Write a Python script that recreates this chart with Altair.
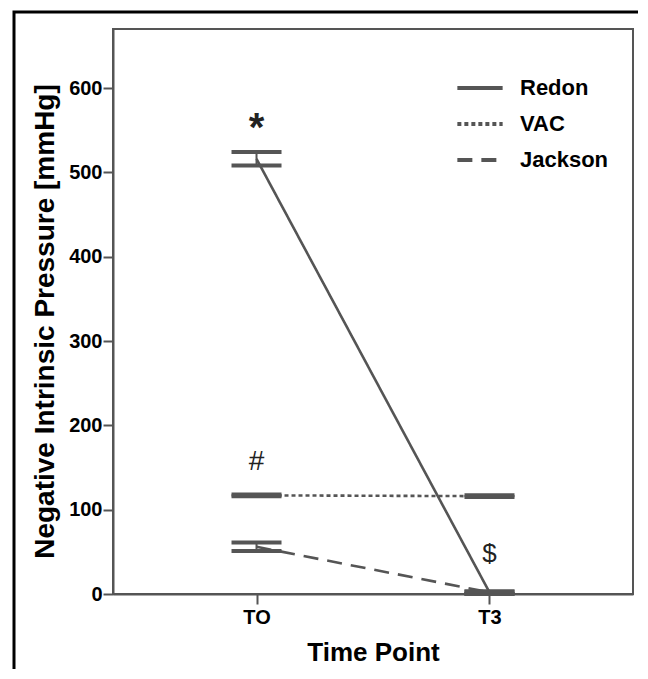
import altair as alt
import pandas as pd

groups = ["Redon", "VAC", "Jackson"]
times = ["TO", "T3"]
redon_mean = [516, 2]
redon_lo = [508, 0]
redon_hi = [524, 3]
vac_mean = [117, 116]
vac_lo = [116, 115]
vac_hi = [118, 117]
jackson_mean = [56, 2]
jackson_lo = [51, 0]
jackson_hi = [61, 3]

ann_labels = ["*", "#", "$"]
ann_time = ["TO", "TO", "T3"]
ann_value = [556, 157, 48]

rows = []
for g, m, lo, hi in [("Redon", redon_mean, redon_lo, redon_hi),
                     ("VAC", vac_mean, vac_lo, vac_hi),
                     ("Jackson", jackson_mean, jackson_lo, jackson_hi)]:
    for i, t in enumerate(times):
        rows.append({"group": g, "time": t, "mean": m[i], "lo": lo[i], "hi": hi[i]})
df = pd.DataFrame(rows)
ann = pd.DataFrame({"label": ann_labels, "time": ann_time, "value": ann_value})

GRAY = "#555555"
FONT = "Liberation Sans"

xenc = alt.X("time:N", sort=times,
             scale=alt.Scale(type="point", padding=0.616),
             axis=alt.Axis(title="Time Point", labelAngle=0))
yscale = alt.Scale(domain=[0, 670], nice=False)

lines = alt.Chart(df).mark_line(color=GRAY, strokeWidth=2.6).encode(
    x=xenc,
    y=alt.Y("mean:Q", scale=yscale,
            axis=alt.Axis(title="Negative Intrinsic Pressure [mmHg]", titleY=292,
                          values=[0, 100, 200, 300, 400, 500, 600], grid=False)),
    strokeDash=alt.StrokeDash("group:N", sort=groups,
                              scale=alt.Scale(domain=groups, range=[[1, 0], [4, 3], [15, 9]]),
                              legend=alt.Legend(title=None, orient="none", legendX=342, legendY=34,
                                                symbolType="stroke", symbolSize=2050,
                                                symbolStrokeWidth=4, symbolStrokeColor=GRAY,
                                                labelFont=FONT, labelFontSize=22,
                                                labelFontWeight="bold", labelColor="black",
                                                labelOffset=15, rowPadding=-21)),
    detail="group:N",
)

tick_props = dict(color=GRAY, thickness=4, size=50, orient="horizontal", opacity=1)
caps_lo = alt.Chart(df).mark_tick(**tick_props).encode(
    x=alt.X("time:N", sort=times), y=alt.Y("lo:Q", scale=yscale))
caps_hi = alt.Chart(df).mark_tick(**tick_props).encode(
    x=alt.X("time:N", sort=times), y=alt.Y("hi:Q", scale=yscale))
stems = alt.Chart(df).mark_rule(color=GRAY, strokeWidth=2).encode(
    x=alt.X("time:N", sort=times), y=alt.Y("lo:Q", scale=yscale), y2="hi:Q")

base_t = alt.Chart(ann).encode(
    x=alt.X("time:N", sort=times), y=alt.Y("value:Q", scale=yscale), text="label:N")
star = base_t.mark_text(font=FONT, fontSize=40, fontWeight="bold", color="#222222", dy=4).transform_filter(
    alt.datum.label == "*")
hash_t = base_t.mark_text(font=FONT, fontSize=28, color="#222222").transform_filter(
    alt.datum.label == "#")
dollar = base_t.mark_text(font=FONT, fontSize=26, color="#222222").transform_filter(
    alt.datum.label == "$")

frame = alt.Chart(pd.DataFrame({"a": [0]})).mark_rect(
    fill=None, stroke="black", strokeWidth=3, clip=False).encode(
    x=alt.value(-99), x2=alt.value(560), y=alt.value(-17), y2=alt.value(700))

chart = alt.layer(frame, lines, stems, caps_lo, caps_hi, star, hash_t, dollar).properties(
    width=520, height=565,
    autosize=alt.AutoSizeParams(type="none"),
    padding={"left": 105, "top": 21, "right": 5, "bottom": 75},
).configure_view(stroke=GRAY, strokeWidth=2).configure_axis(
    domainColor=GRAY, domainWidth=2, tickColor=GRAY, tickWidth=2, tickSize=10,
    labelFont=FONT, labelFontSize=20, labelFontWeight="bold", labelColor="black",
    titleFont=FONT, titleFontWeight="bold", titleColor="black",
    labelPadding=1,
).configure_axisY(titlePadding=9, titleFontSize=28).configure_axisX(
    titlePadding=12, labelPadding=3, titleFontSize=26)

chart.save("out.html", embed_options={"renderer": "svg", "actions": False})
